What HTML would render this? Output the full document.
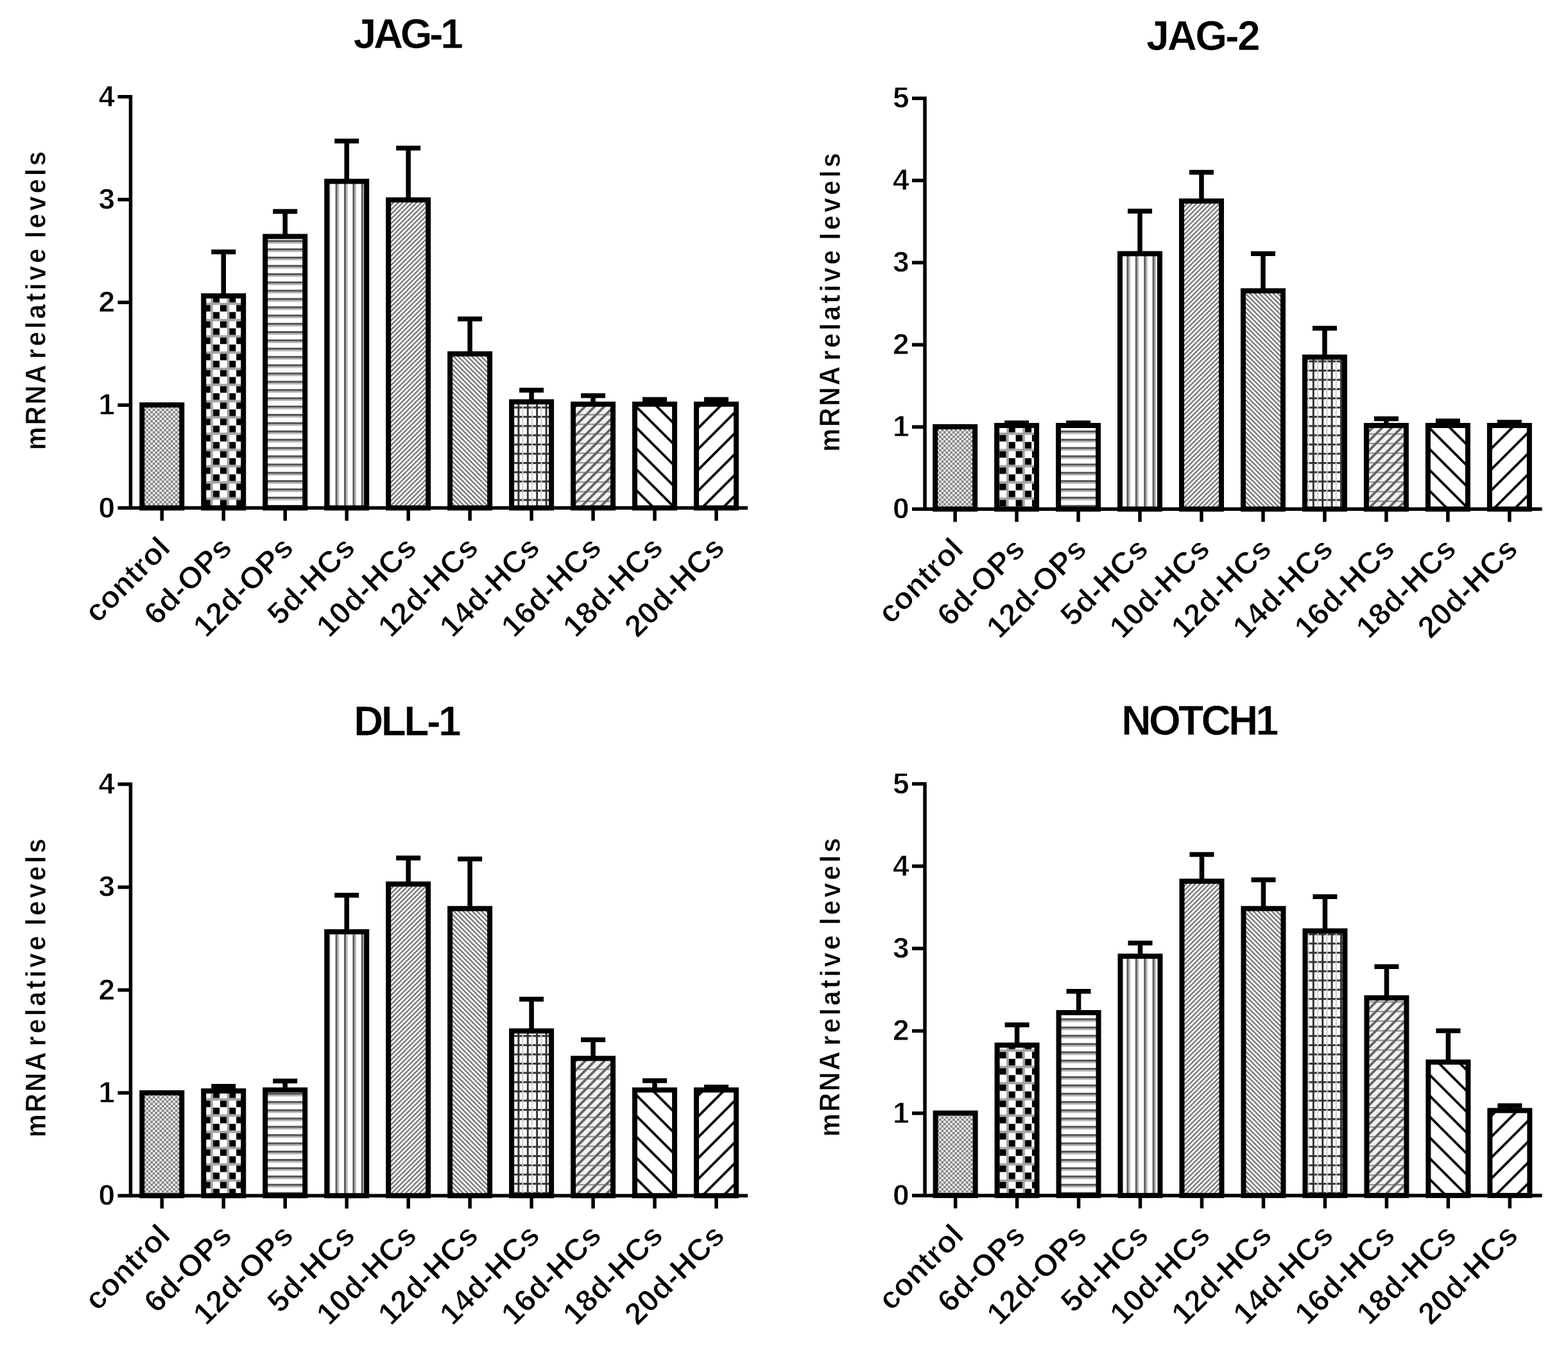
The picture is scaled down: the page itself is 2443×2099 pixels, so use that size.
<!DOCTYPE html>
<html><head><meta charset="utf-8"><title>mRNA relative levels</title>
<style>
html,body{margin:0;padding:0;background:#fff;}
body{width:2443px;height:2099px;overflow:hidden;}
svg{display:block;filter:blur(0.6px);}
text{font-family:'Liberation Sans', Arial, Helvetica, sans-serif;fill:#000;font-weight:bold;}
.tk text{font-size:46px;text-anchor:end;stroke:#fff;stroke-width:0.8px;}
.xl text{font-size:48px;text-anchor:end;letter-spacing:0.25px;stroke:#fff;stroke-width:1.0px;}
.tt{font-size:64px;stroke:#fff;stroke-width:0.6px;}
.yl{font-size:44px;stroke:#fff;stroke-width:0.6px;}
</style></head>
<body>
<svg width="2443" height="2099" viewBox="0 0 2443 2099">
<defs>
<pattern id="p0" width="7" height="7" patternUnits="userSpaceOnUse"><rect width="7" height="7" fill="#ececec"/><rect width="3.5" height="3.5" fill="#838383"/><rect x="3.5" y="3.5" width="3.5" height="3.5" fill="#838383"/></pattern>
<pattern id="p1" width="25.3" height="25.3" patternUnits="userSpaceOnUse" x="328.3" y="471.7"><rect width="25.3" height="25.3" fill="#fff"/><rect x="14.6" y="3.5" width="10.3" height="10.3" fill="#000"/><rect x="3.5" y="14.6" width="10.3" height="10.3" fill="#000"/><rect width="25.3" height="3.5" fill="#a4a4a4"/><rect width="3.5" height="25.3" fill="#a4a4a4"/></pattern>
<pattern id="p2" width="12.9" height="12.9" patternUnits="userSpaceOnUse"><rect width="12.9" height="12.9" fill="#fff"/><rect y="0" width="12.9" height="3.2" fill="#555"/><rect y="3.2" width="12.9" height="2.4" fill="#b0b0b0"/></pattern>
<pattern id="p3" width="13.4" height="13.4" patternUnits="userSpaceOnUse"><rect width="13.4" height="13.4" fill="#fff"/><rect x="0" width="3.2" height="13.4" fill="#5e5e5e"/><rect x="3.2" width="2.4" height="13.4" fill="#b8b8b8"/></pattern>
<pattern id="p4" width="7.2" height="7.2" patternUnits="userSpaceOnUse"><rect width="7.2" height="7.2" fill="#f4f4f4"/><path d="M-1.8 1.8L1.8 -1.8M0 7.2L7.2 0M5.4 9L9 5.4" stroke="#626262" stroke-width="1.9"/></pattern>
<pattern id="p5" width="7.2" height="7.2" patternUnits="userSpaceOnUse"><rect width="7.2" height="7.2" fill="#f4f4f4"/><path d="M-1.8 5.4L1.8 9M0 0L7.2 7.2M5.4 -1.8L9 1.8" stroke="#626262" stroke-width="1.9"/></pattern>
<pattern id="p6" width="14.4" height="14.4" patternUnits="userSpaceOnUse"><rect width="14.4" height="14.4" fill="#fff"/><rect x="0" width="3" height="14.4" fill="#333"/><rect y="0" width="14.4" height="3" fill="#333"/><rect x="7.2" width="2" height="14.4" fill="#ccc"/></pattern>
<pattern id="p7" width="15" height="15" patternUnits="userSpaceOnUse"><rect width="15" height="15" fill="#f2f2f2"/><rect y="0" width="15" height="2.4" fill="#9a9a9a"/><path d="M-3.75 3.75L3.75 -3.75M0 15L15 0M11.25 18.75L18.75 11.25" stroke="#666" stroke-width="3.8"/></pattern>
<pattern id="p8" width="32.5" height="32.5" patternUnits="userSpaceOnUse"><rect width="32.5" height="32.5" fill="#fff"/><path d="M-8 24.5L8 40.5M0 0L32.5 32.5M24.5 -8L40.5 8" stroke="#000" stroke-width="3.8"/></pattern>
<pattern id="p9" width="32.5" height="32.5" patternUnits="userSpaceOnUse"><rect width="32.5" height="32.5" fill="#fff"/><path d="M-8 8L8 -8M0 32.5L32.5 0M24.5 40.5L40.5 24.5" stroke="#000" stroke-width="3.8"/></pattern>
</defs>
<rect width="2443" height="2099" fill="#fff"/>
<rect x="221.3" y="631" width="62" height="160.5" fill="url(#p0)" stroke="#000" stroke-width="8"/>
<rect x="317.27" y="461.1" width="62" height="330.4" fill="url(#p1)" stroke="#000" stroke-width="8"/>
<rect x="413.24" y="368.5" width="62" height="423" fill="url(#p2)" stroke="#000" stroke-width="8"/>
<rect x="509.21" y="282.6" width="62" height="508.9" fill="url(#p3)" stroke="#000" stroke-width="8"/>
<rect x="605.18" y="311.5" width="62" height="480" fill="url(#p4)" stroke="#000" stroke-width="8"/>
<rect x="701.15" y="551.4" width="62" height="240.1" fill="url(#p5)" stroke="#000" stroke-width="8"/>
<rect x="797.12" y="626.2" width="62" height="165.3" fill="url(#p6)" stroke="#000" stroke-width="8"/>
<rect x="893.09" y="629.8" width="62" height="161.7" fill="url(#p7)" stroke="#000" stroke-width="8"/>
<rect x="989.06" y="629.8" width="62" height="161.7" fill="url(#p8)" stroke="#000" stroke-width="8"/>
<rect x="1085.03" y="629.8" width="62" height="161.7" fill="url(#p9)" stroke="#000" stroke-width="8"/>
<path d="M348.27 461.1V392.4M329.27 392.4H367.27" stroke="#000" stroke-width="7.5" fill="none"/>
<path d="M444.24 368.5V329.6M425.24 329.6H463.24" stroke="#000" stroke-width="7.5" fill="none"/>
<path d="M540.21 282.6V219.8M521.21 219.8H559.21" stroke="#000" stroke-width="7.5" fill="none"/>
<path d="M636.18 311.5V230.7M617.18 230.7H655.18" stroke="#000" stroke-width="7.5" fill="none"/>
<path d="M732.15 551.4V497.1M713.15 497.1H751.15" stroke="#000" stroke-width="7.5" fill="none"/>
<path d="M828.12 626.2V608.1M809.12 608.1H847.12" stroke="#000" stroke-width="7.5" fill="none"/>
<path d="M924.09 629.8V616.5M905.09 616.5H943.09" stroke="#000" stroke-width="7.5" fill="none"/>
<path d="M1020.06 629.8V622.5M1001.06 622.5H1039.06" stroke="#000" stroke-width="7.5" fill="none"/>
<path d="M1116.03 629.8V622.5M1097.03 622.5H1135.03" stroke="#000" stroke-width="7.5" fill="none"/>
<path d="M203.5 791.5V148.06M183.5 791.5H1165M183.5 631.33H203.5M183.5 471.15H203.5M183.5 310.97H203.5M183.5 150.8H203.5M252.3 791.5V811.5M348.27 791.5V811.5M444.24 791.5V811.5M540.21 791.5V811.5M636.18 791.5V811.5M732.15 791.5V811.5M828.12 791.5V811.5M924.09 791.5V811.5M1020.06 791.5V811.5M1116.03 791.5V811.5" stroke="#000" stroke-width="5.5" fill="none" stroke-linecap="butt"/>
<g class="tk">
<text x="179" y="806.5">0</text>
<text x="179" y="646.33">1</text>
<text x="179" y="486.15">2</text>
<text x="179" y="325.97">3</text>
<text x="179" y="165.8">4</text>
</g>
<g class="xl">
<text transform="translate(268.1 856.3) rotate(-45)">control</text>
<text transform="translate(364.07 856.3) rotate(-45)">6d-OPs</text>
<text transform="translate(460.04 856.3) rotate(-45)">12d-OPs</text>
<text transform="translate(556.01 856.3) rotate(-45)">5d-HCs</text>
<text transform="translate(651.98 856.3) rotate(-45)">10d-HCs</text>
<text transform="translate(747.95 856.3) rotate(-45)">12d-HCs</text>
<text transform="translate(843.92 856.3) rotate(-45)">14d-HCs</text>
<text transform="translate(939.89 856.3) rotate(-45)">16d-HCs</text>
<text transform="translate(1035.86 856.3) rotate(-45)">18d-HCs</text>
<text transform="translate(1131.83 856.3) rotate(-45)">20d-HCs</text>
</g>
<text class="tt" transform="translate(550.75 75) scale(1.0 1)" letter-spacing="-4.375">JAG-1</text>
<text class="yl" transform="translate(71.2 371.5) rotate(-90) scale(0.93 1)" letter-spacing="4.731">levels</text>
<text class="yl" transform="translate(71.2 559.5) rotate(-90) scale(0.93 1)" letter-spacing="4.455">relative</text>
<text class="yl" transform="translate(70.7 701.5) rotate(-90) scale(0.93 1)" letter-spacing="2.867">mRNA</text>
<rect x="1457.1" y="665" width="62" height="128.3" fill="url(#p0)" stroke="#000" stroke-width="8"/>
<rect x="1553.07" y="663" width="62" height="130.3" fill="url(#p1)" stroke="#000" stroke-width="8"/>
<rect x="1649.04" y="663" width="62" height="130.3" fill="url(#p2)" stroke="#000" stroke-width="8"/>
<rect x="1745.01" y="395.3" width="62" height="398" fill="url(#p3)" stroke="#000" stroke-width="8"/>
<rect x="1840.98" y="313.3" width="62" height="480" fill="url(#p4)" stroke="#000" stroke-width="8"/>
<rect x="1936.95" y="453.2" width="62" height="340.1" fill="url(#p5)" stroke="#000" stroke-width="8"/>
<rect x="2032.92" y="556.5" width="62" height="236.8" fill="url(#p6)" stroke="#000" stroke-width="8"/>
<rect x="2128.89" y="663" width="62" height="130.3" fill="url(#p7)" stroke="#000" stroke-width="8"/>
<rect x="2224.86" y="663" width="62" height="130.3" fill="url(#p8)" stroke="#000" stroke-width="8"/>
<rect x="2320.83" y="663" width="62" height="130.3" fill="url(#p9)" stroke="#000" stroke-width="8"/>
<path d="M1584.07 663V659M1565.07 659H1603.07" stroke="#000" stroke-width="7.5" fill="none"/>
<path d="M1680.04 663V659M1661.04 659H1699.04" stroke="#000" stroke-width="7.5" fill="none"/>
<path d="M1776.01 395.3V328.9M1757.01 328.9H1795.01" stroke="#000" stroke-width="7.5" fill="none"/>
<path d="M1871.98 313.3V268.6M1852.98 268.6H1890.98" stroke="#000" stroke-width="7.5" fill="none"/>
<path d="M1967.95 453.2V395.3M1948.95 395.3H1986.95" stroke="#000" stroke-width="7.5" fill="none"/>
<path d="M2063.92 556.5V511.5M2044.92 511.5H2082.92" stroke="#000" stroke-width="7.5" fill="none"/>
<path d="M2159.89 663V652.4M2140.89 652.4H2178.89" stroke="#000" stroke-width="7.5" fill="none"/>
<path d="M2255.86 663V656M2236.86 656H2274.86" stroke="#000" stroke-width="7.5" fill="none"/>
<path d="M2351.83 663V658M2332.83 658H2370.83" stroke="#000" stroke-width="7.5" fill="none"/>
<path d="M1441 793.3V150.46M1421 793.3H2402.6M1421 665.28H1441M1421 537.26H1441M1421 409.24H1441M1421 281.22H1441M1421 153.2H1441M1488.1 793.3V813.3M1584.07 793.3V813.3M1680.04 793.3V813.3M1776.01 793.3V813.3M1871.98 793.3V813.3M1967.95 793.3V813.3M2063.92 793.3V813.3M2159.89 793.3V813.3M2255.86 793.3V813.3M2351.83 793.3V813.3" stroke="#000" stroke-width="5.5" fill="none" stroke-linecap="butt"/>
<g class="tk">
<text x="1416.5" y="808.3">0</text>
<text x="1416.5" y="680.28">1</text>
<text x="1416.5" y="552.26">2</text>
<text x="1416.5" y="424.24">3</text>
<text x="1416.5" y="296.22">4</text>
<text x="1416.5" y="168.2">5</text>
</g>
<g class="xl">
<text transform="translate(1503.9 858.1) rotate(-45)">control</text>
<text transform="translate(1599.87 858.1) rotate(-45)">6d-OPs</text>
<text transform="translate(1695.84 858.1) rotate(-45)">12d-OPs</text>
<text transform="translate(1791.81 858.1) rotate(-45)">5d-HCs</text>
<text transform="translate(1887.78 858.1) rotate(-45)">10d-HCs</text>
<text transform="translate(1983.75 858.1) rotate(-45)">12d-HCs</text>
<text transform="translate(2079.72 858.1) rotate(-45)">14d-HCs</text>
<text transform="translate(2175.69 858.1) rotate(-45)">16d-HCs</text>
<text transform="translate(2271.66 858.1) rotate(-45)">18d-HCs</text>
<text transform="translate(2367.63 858.1) rotate(-45)">20d-HCs</text>
</g>
<text class="tt" transform="translate(1786 77.8) scale(1.0 1)" letter-spacing="-2.750">JAG-2</text>
<text class="yl" transform="translate(1308.5 374) rotate(-90) scale(0.93 1)" letter-spacing="4.731">levels</text>
<text class="yl" transform="translate(1308.5 562) rotate(-90) scale(0.93 1)" letter-spacing="4.455">relative</text>
<text class="yl" transform="translate(1308 704) rotate(-90) scale(0.93 1)" letter-spacing="2.867">mRNA</text>
<rect x="221.3" y="1702.9" width="62" height="160.3" fill="url(#p0)" stroke="#000" stroke-width="8"/>
<rect x="317.27" y="1700" width="62" height="163.2" fill="url(#p1)" stroke="#000" stroke-width="8"/>
<rect x="413.24" y="1698.5" width="62" height="164.7" fill="url(#p2)" stroke="#000" stroke-width="8"/>
<rect x="509.21" y="1452" width="62" height="411.2" fill="url(#p3)" stroke="#000" stroke-width="8"/>
<rect x="605.18" y="1377.6" width="62" height="485.6" fill="url(#p4)" stroke="#000" stroke-width="8"/>
<rect x="701.15" y="1415.8" width="62" height="447.4" fill="url(#p5)" stroke="#000" stroke-width="8"/>
<rect x="797.12" y="1606.5" width="62" height="256.7" fill="url(#p6)" stroke="#000" stroke-width="8"/>
<rect x="893.09" y="1649.3" width="62" height="213.9" fill="url(#p7)" stroke="#000" stroke-width="8"/>
<rect x="989.06" y="1698.5" width="62" height="164.7" fill="url(#p8)" stroke="#000" stroke-width="8"/>
<rect x="1085.03" y="1698.5" width="62" height="164.7" fill="url(#p9)" stroke="#000" stroke-width="8"/>
<path d="M348.27 1700V1692.7M329.27 1692.7H367.27" stroke="#000" stroke-width="7.5" fill="none"/>
<path d="M444.24 1698.5V1684.5M425.24 1684.5H463.24" stroke="#000" stroke-width="7.5" fill="none"/>
<path d="M540.21 1452V1395M521.21 1395H559.21" stroke="#000" stroke-width="7.5" fill="none"/>
<path d="M636.18 1377.6V1337.1M617.18 1337.1H655.18" stroke="#000" stroke-width="7.5" fill="none"/>
<path d="M732.15 1415.8V1338.5M713.15 1338.5H751.15" stroke="#000" stroke-width="7.5" fill="none"/>
<path d="M828.12 1606.5V1556.9M809.12 1556.9H847.12" stroke="#000" stroke-width="7.5" fill="none"/>
<path d="M924.09 1649.3V1620.3M905.09 1620.3H943.09" stroke="#000" stroke-width="7.5" fill="none"/>
<path d="M1020.06 1698.5V1684M1001.06 1684H1039.06" stroke="#000" stroke-width="7.5" fill="none"/>
<path d="M1116.03 1698.5V1694M1097.03 1694H1135.03" stroke="#000" stroke-width="7.5" fill="none"/>
<path d="M203.5 1863.2V1219.36M183.5 1863.2H1165M183.5 1702.92H203.5M183.5 1542.65H203.5M183.5 1382.38H203.5M183.5 1222.1H203.5M252.3 1863.2V1883.2M348.27 1863.2V1883.2M444.24 1863.2V1883.2M540.21 1863.2V1883.2M636.18 1863.2V1883.2M732.15 1863.2V1883.2M828.12 1863.2V1883.2M924.09 1863.2V1883.2M1020.06 1863.2V1883.2M1116.03 1863.2V1883.2" stroke="#000" stroke-width="5.5" fill="none" stroke-linecap="butt"/>
<g class="tk">
<text x="179" y="1878.2">0</text>
<text x="179" y="1717.92">1</text>
<text x="179" y="1557.65">2</text>
<text x="179" y="1397.38">3</text>
<text x="179" y="1237.1">4</text>
</g>
<g class="xl">
<text transform="translate(268.1 1928) rotate(-45)">control</text>
<text transform="translate(364.07 1928) rotate(-45)">6d-OPs</text>
<text transform="translate(460.04 1928) rotate(-45)">12d-OPs</text>
<text transform="translate(556.01 1928) rotate(-45)">5d-HCs</text>
<text transform="translate(651.98 1928) rotate(-45)">10d-HCs</text>
<text transform="translate(747.95 1928) rotate(-45)">12d-HCs</text>
<text transform="translate(843.92 1928) rotate(-45)">14d-HCs</text>
<text transform="translate(939.89 1928) rotate(-45)">16d-HCs</text>
<text transform="translate(1035.86 1928) rotate(-45)">18d-HCs</text>
<text transform="translate(1131.83 1928) rotate(-45)">20d-HCs</text>
</g>
<text class="tt" transform="translate(551 1146.4) scale(1.0 1)" letter-spacing="-3.400">DLL-1</text>
<text class="yl" transform="translate(71.2 1442.5) rotate(-90) scale(0.93 1)" letter-spacing="4.731">levels</text>
<text class="yl" transform="translate(71.2 1630.5) rotate(-90) scale(0.93 1)" letter-spacing="4.455">relative</text>
<text class="yl" transform="translate(70.7 1772.5) rotate(-90) scale(0.93 1)" letter-spacing="2.867">mRNA</text>
<rect x="1457.6" y="1734.5" width="62" height="128.4" fill="url(#p0)" stroke="#000" stroke-width="8"/>
<rect x="1553.57" y="1628.6" width="62" height="234.3" fill="url(#p1)" stroke="#000" stroke-width="8"/>
<rect x="1649.54" y="1578" width="62" height="284.9" fill="url(#p2)" stroke="#000" stroke-width="8"/>
<rect x="1745.51" y="1490" width="62" height="372.9" fill="url(#p3)" stroke="#000" stroke-width="8"/>
<rect x="1841.48" y="1373.2" width="62" height="489.7" fill="url(#p4)" stroke="#000" stroke-width="8"/>
<rect x="1937.45" y="1415.8" width="62" height="447.1" fill="url(#p5)" stroke="#000" stroke-width="8"/>
<rect x="2033.42" y="1450.6" width="62" height="412.3" fill="url(#p6)" stroke="#000" stroke-width="8"/>
<rect x="2129.39" y="1554.9" width="62" height="308" fill="url(#p7)" stroke="#000" stroke-width="8"/>
<rect x="2225.36" y="1655" width="62" height="207.9" fill="url(#p8)" stroke="#000" stroke-width="8"/>
<rect x="2321.33" y="1730.5" width="62" height="132.4" fill="url(#p9)" stroke="#000" stroke-width="8"/>
<path d="M1584.57 1628.6V1597.1M1565.57 1597.1H1603.57" stroke="#000" stroke-width="7.5" fill="none"/>
<path d="M1680.54 1578V1544.7M1661.54 1544.7H1699.54" stroke="#000" stroke-width="7.5" fill="none"/>
<path d="M1776.51 1490V1469.6M1757.51 1469.6H1795.51" stroke="#000" stroke-width="7.5" fill="none"/>
<path d="M1872.48 1373.2V1331.5M1853.48 1331.5H1891.48" stroke="#000" stroke-width="7.5" fill="none"/>
<path d="M1968.45 1415.8V1370.9M1949.45 1370.9H1987.45" stroke="#000" stroke-width="7.5" fill="none"/>
<path d="M2064.42 1450.6V1397.3M2045.42 1397.3H2083.42" stroke="#000" stroke-width="7.5" fill="none"/>
<path d="M2160.39 1554.9V1506.2M2141.39 1506.2H2179.39" stroke="#000" stroke-width="7.5" fill="none"/>
<path d="M2256.36 1655V1606.3M2237.36 1606.3H2275.36" stroke="#000" stroke-width="7.5" fill="none"/>
<path d="M2352.33 1730.5V1723M2333.33 1723H2371.33" stroke="#000" stroke-width="7.5" fill="none"/>
<path d="M1441 1862.9V1218.86M1421 1862.9H2402.6M1421 1734.64H1441M1421 1606.38H1441M1421 1478.12H1441M1421 1349.86H1441M1421 1221.6H1441M1488.6 1862.9V1882.9M1584.57 1862.9V1882.9M1680.54 1862.9V1882.9M1776.51 1862.9V1882.9M1872.48 1862.9V1882.9M1968.45 1862.9V1882.9M2064.42 1862.9V1882.9M2160.39 1862.9V1882.9M2256.36 1862.9V1882.9M2352.33 1862.9V1882.9" stroke="#000" stroke-width="5.5" fill="none" stroke-linecap="butt"/>
<g class="tk">
<text x="1416.5" y="1877.9">0</text>
<text x="1416.5" y="1749.64">1</text>
<text x="1416.5" y="1621.38">2</text>
<text x="1416.5" y="1493.12">3</text>
<text x="1416.5" y="1364.86">4</text>
<text x="1416.5" y="1236.6">5</text>
</g>
<g class="xl">
<text transform="translate(1504.4 1927.7) rotate(-45)">control</text>
<text transform="translate(1600.37 1927.7) rotate(-45)">6d-OPs</text>
<text transform="translate(1696.34 1927.7) rotate(-45)">12d-OPs</text>
<text transform="translate(1792.31 1927.7) rotate(-45)">5d-HCs</text>
<text transform="translate(1888.28 1927.7) rotate(-45)">10d-HCs</text>
<text transform="translate(1984.25 1927.7) rotate(-45)">12d-HCs</text>
<text transform="translate(2080.22 1927.7) rotate(-45)">14d-HCs</text>
<text transform="translate(2176.19 1927.7) rotate(-45)">16d-HCs</text>
<text transform="translate(2272.16 1927.7) rotate(-45)">18d-HCs</text>
<text transform="translate(2368.13 1927.7) rotate(-45)">20d-HCs</text>
</g>
<text class="tt" transform="translate(1747.35 1145.4) scale(1.0 1)" letter-spacing="-3.660">NOTCH1</text>
<text class="yl" transform="translate(1308.5 1441.5) rotate(-90) scale(0.93 1)" letter-spacing="4.731">levels</text>
<text class="yl" transform="translate(1308.5 1629.5) rotate(-90) scale(0.93 1)" letter-spacing="4.455">relative</text>
<text class="yl" transform="translate(1308 1771.5) rotate(-90) scale(0.93 1)" letter-spacing="2.867">mRNA</text>
</svg>
</body></html>
